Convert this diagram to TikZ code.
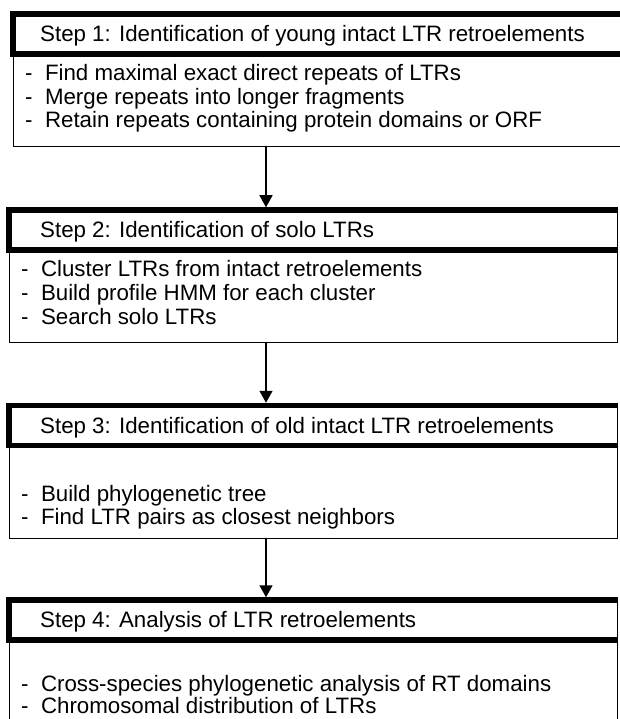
\documentclass[tikz,border=0pt]{standalone}
\usepackage{fontspec}
\setmainfont{Liberation Sans}
\usetikzlibrary{arrows.meta}

\tikzset{
	frame/.style={draw, line width=1.4pt, inner sep=0pt, anchor=north west},
	head/.style={frame, line width=1pt, minimum height=39},
	band/.style={line width=5.5pt},
	txt/.style={anchor=base west, inner sep=0pt, font=\fontsize{22.3}{24}\selectfont},
	flow/.style={line width=1.5pt, shorten >=2.75pt, -{Triangle[length=12pt,width=13pt]}}
}

\begin{document}
\begin{tikzpicture}[x=1pt,y=1pt]
			\useasboundingbox (0,0) rectangle (619,-719);
			\coordinate (ax) at (266,0);
			% step 1
			\node[frame, minimum width=615, minimum height=93] (b1) at (13,-53) {};
			\node[head, minimum width=615] (h1) at (13,-14) {};
			\draw[band] (h1.north east) -- (h1.north west) -- (h1.south west) -- (h1.south east);
			\node[txt] (s1) at (40,-41.5) {Step 1: Identification of young intact LTR retroelements};
			\node[txt] (l11) at (25,-81) {-\ \ Find maximal exact direct repeats of LTRs};
			\node[txt] (l12) at (25,-105) {-\ \ Merge repeats into longer fragments};
			\node[txt] (l13) at (25,-128) {-\ \ Retain repeats containing protein domains or ORF};
			% step 2
			\node[frame, minimum width=608, minimum height=92.5] (b2) at (9,-249.5) {};
			\node[head, minimum width=608] (h2) at (9,-210) {};
			\draw[band] (h2.north east) -- (h2.north west) -- (h2.south west) -- (h2.south east);
			\node[txt] (s2) at (40,-237.5) {Step 2: Identification of solo LTRs};
			\node[txt] (l21) at (21,-276) {-\ \ Cluster LTRs from intact retroelements};
			\node[txt] (l22) at (21,-300) {-\ \ Build profile HMM for each cluster};
			\node[txt] (l23) at (21,-324) {-\ \ Search solo LTRs};
			% step 3
			\node[frame, minimum width=608, minimum height=93] (b3) at (9,-444.5) {};
			\node[head, minimum width=608] (h3) at (9,-405.5) {};
			\draw[band] (h3.north east) -- (h3.north west) -- (h3.south west) -- (h3.south east);
			\node[txt] (s3) at (40,-433) {Step 3: Identification of old intact LTR retroelements};
			\node[txt] (l31) at (21,-501) {-\ \ Build phylogenetic tree};
			\node[txt] (l32) at (21,-524) {-\ \ Find LTR pairs as closest neighbors};
			% step 4
			\node[frame, minimum width=608, minimum height=101] (b4) at (9,-639) {};
			\node[head, minimum width=608] (h4) at (9,-600) {};
			\draw[band] (h4.north east) -- (h4.north west) -- (h4.south west) -- (h4.south east);
			\node[txt] (s4) at (40,-627.5) {Step 4: Analysis of LTR retroelements};
			\node[txt] (l41) at (21,-691) {-\ \ Cross-species phylogenetic analysis of RT domains};
			\node[txt] (l42) at (21,-713) {-\ \ Chromosomal distribution of LTRs};
			% arrows
			\draw[flow] (b1.south -| ax) -- (h2.north -| ax);
			\draw[flow] (b2.south -| ax) -- (h3.north -| ax);
			\draw[flow] (b3.south -| ax) -- (h4.north -| ax);
		\end{tikzpicture}
\end{document}
